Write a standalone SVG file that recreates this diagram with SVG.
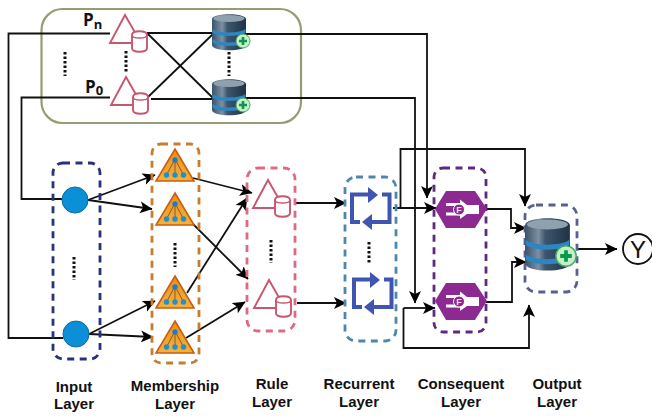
<svg xmlns="http://www.w3.org/2000/svg" width="652" height="417" viewBox="0 0 652 417">
<style>
.wire{fill:none;stroke:#111;stroke-width:1.8}
.arr{marker-end:url(#head)}
.box{fill:none;stroke-width:2.8;stroke-dasharray:7 5.5}
.dots{fill:none;stroke:#111;stroke-width:3;stroke-dasharray:2.6 1.9}
.lab{font-family:"Liberation Sans",Arial,sans-serif;font-weight:700;font-size:15px;fill:#111;text-anchor:middle}
.p{font-family:"Open Sans","Liberation Sans",sans-serif;font-weight:700;fill:#111}
.rule{fill:#fff;stroke:#c8566f;stroke-width:1.9}
.loop{fill:none;stroke:#3f55b0;stroke-width:4}
</style>
<defs>
<marker id="head" markerUnits="userSpaceOnUse" markerWidth="14" markerHeight="14" refX="12" refY="6.5" orient="auto">
<path d="M0,0.5 L12.5,6.5 L0,12.5 L3,6.5 z" fill="#000"/>
</marker>
<linearGradient id="dbg" x1="0" x2="1" y1="0" y2="0">
<stop offset="0" stop-color="#3a5268"/><stop offset=".3" stop-color="#7d90a2"/><stop offset=".45" stop-color="#3e566d"/><stop offset="1" stop-color="#1f3245"/>
</linearGradient>
<linearGradient id="org" x1="0" x2="0" y1="0" y2="1">
<stop offset="0" stop-color="#e98f1c"/><stop offset="1" stop-color="#f6b13a"/>
</linearGradient>
<g id="db">
<path d="M0,5 C0,-1.5 34,-1.5 34,5 L34,31 C34,38 0,38 0,31 z" fill="url(#dbg)"/>
<ellipse cx="17" cy="4.5" rx="15.5" ry="3.4" fill="#8fa0ae"/>
<path d="M0.5,15 C6,19.5 28,19.5 33.5,15 L33.5,18.5 C28,23 6,23 0.5,18.5 z" fill="#2b87c4"/>
<path d="M0.5,25 C6,29.5 28,29.5 33.5,25 L33.5,28.5 C28,33 6,33 0.5,28.5 z" fill="#2b87c4"/>
</g>
<g id="plus">
<circle r="7" fill="#c9edcb" stroke="#42ab62" stroke-width="1"/>
<path d="M-4,0H4M0,-4V4" stroke="#079a48" stroke-width="2.6" fill="none"/>
</g>
<g id="rulegl">
<path d="M15,0 L0,28 L31,28 z" class="rule"/>
<path d="M22,20 C22,15 37,15 37,20 L37,33 C37,38 22,38 22,33 z" class="rule"/>
<path d="M22,20 C22,24 37,24 37,20" fill="none" stroke="#c8566f" stroke-width="1.4"/>
</g>
<g id="mem">
<path d="M19,0 L38,32 L0,32 z" fill="url(#org)" stroke="#c85e10" stroke-width="1.6"/>
<path d="M19,10 L10.500,26 M19,10 V26 M19,10 L27.500,26" stroke="#8a5a30" stroke-width="1"/>
<circle cx="19" cy="11" r="2.700" fill="#1f7cc4"/>
<circle cx="10.500" cy="26" r="2.700" fill="#1f8fd0"/>
<circle cx="19" cy="26" r="2.700" fill="#1f8fd0"/>
<circle cx="27.500" cy="26" r="2.700" fill="#1f8fd0"/>
</g>
<g id="loopgl">
<path d="M10,35 H2 V7.500 H20" class="loop"/>
<path d="M18,0 L28,8 L18,16 z" fill="#3f55b0"/>
<path d="M32,7.500 H39.500 V35 H22" class="loop"/>
<path d="M22,27 L12,35 L22,43 z" fill="#3f55b0"/>
</g>
<g id="hex">
<path d="M0,18 L11,0 L40,0 L52,18 L40,37 L11,37 z" fill="#8c2a92"/>
<path d="M11,12 H25 V8.500 L32,14 H44 V23 H32 L25,28 V24.500 H11 V21.500 H20 L22,18.500 L20,15 H11 z" fill="#fff"/>
<circle cx="24" cy="18.500" r="5.500" fill="#8c2a92" stroke="#fff" stroke-width="1"/>
<text x="24" y="22" text-anchor="middle" font-family="Liberation Sans,sans-serif" font-weight="700" font-size="9" fill="#f3d8f4">F</text>
</g>
</defs>

<rect width="652" height="417" fill="#fff"/>

<g id="premise-panel">
<rect x="41.500" y="9" width="259.500" height="114" rx="21" fill="none" stroke="#959d74" stroke-width="2.200"/>
<path class="dots" d="M65,52V76"/>
<path class="dots" d="M126,51V73"/>
<path class="dots" d="M229,52V76"/>
</g>

<g id="connectors">
<path class="wire" d="M110,33.500 H8.500 V338 H63"/>
<path class="wire" d="M110,97.500 H21.500 V199 H62"/>
<path class="wire" d="M147,33 H214"/>
<path class="wire" d="M147,33 L214,99"/>
<path class="wire" d="M148,97 L214,33"/>
<path class="wire" d="M151,99 H214"/>
<path class="wire arr" d="M246,34 H427 V198"/>
<path class="wire arr" d="M246,98 H415 V303"/>
<path class="wire arr" d="M88,200 L155,175"/>
<path class="wire arr" d="M88,200 L152,209"/>
<path class="wire arr" d="M89,334 L155,301"/>
<path class="wire arr" d="M89,334 L153,337"/>
<path class="wire arr" d="M193,178 L252,193"/>
<path class="wire arr" d="M187,218 L248,279"/>
<path class="wire arr" d="M187,293 L247,198"/>
<path class="wire arr" d="M186,338 L245,302"/>
<path class="wire arr" d="M296,203 H346"/>
<path class="wire arr" d="M297,303 H346"/>
<path class="wire arr" d="M393,208 H436"/>
<path class="wire arr" d="M400.500,208 V149 H525 V206"/>
<path class="wire arr" d="M403.500,308 H435"/>
<path class="wire arr" d="M403.500,308 V348 H529 V305"/>
<path class="wire arr" d="M486,209 H511 V228 H526"/>
<path class="wire arr" d="M486,302 H512 V262 H526"/>
<path class="wire arr" d="M577,249 H617"/>
</g>

<g id="node-p-n"><use href="#rulegl" transform="translate(110,15)"/><text class="p" x="83" y="26" font-size="17">P<tspan font-size="13" dy="3">n</tspan></text></g>
<g id="node-p-0"><use href="#rulegl" transform="translate(111,77)"/><text class="p" x="85" y="93" font-size="17">P<tspan font-size="13" dy="2">0</tspan></text></g>
<g id="node-db-n"><use href="#db" transform="translate(212,14)"/><use href="#plus" transform="translate(243,41)"/></g>
<g id="node-db-0"><use href="#db" transform="translate(212,79)"/><use href="#plus" transform="translate(243,105)"/></g>

<g id="input-layer">
<rect class="box" x="53" y="163" width="47" height="196" rx="10" stroke="#27327c"/>
<circle cx="75" cy="200" r="13" fill="#0b8fd6" stroke="#0d6aa0" stroke-width="1"/>
<circle cx="76" cy="334" r="13" fill="#0b8fd6" stroke="#0d6aa0" stroke-width="1"/>
<path class="dots" d="M74,257V280"/>
<text class="lab" x="74" y="392">Input</text>
<text class="lab" x="74" y="409">Layer</text>
</g>

<g id="membership-layer">
<rect class="box" x="152" y="144" width="47" height="219" rx="9" stroke="#c77d2e"/>
<use href="#mem" transform="translate(156,149)"/>
<use href="#mem" transform="translate(156,193)"/>
<use href="#mem" transform="translate(156,276)"/>
<use href="#mem" transform="translate(156,321)"/>
<path class="dots" d="M175,243V267"/>
<text class="lab" x="175" y="391">Membership</text>
<text class="lab" x="175" y="409">Layer</text>
</g>

<g id="rule-layer">
<rect class="box" x="247" y="168" width="48" height="163" rx="11" stroke="#dd6a84"/>
<use href="#rulegl" transform="translate(253,180)"/>
<use href="#rulegl" transform="translate(254,280)"/>
<path class="dots" d="M271,240V263"/>
<text class="lab" x="272" y="389">Rule</text>
<text class="lab" x="272" y="407">Layer</text>
</g>

<g id="recurrent-layer">
<rect class="box" x="345" y="177" width="51" height="164" rx="11" stroke="#4e87ae"/>
<use href="#loopgl" transform="translate(350,187)"/>
<use href="#loopgl" transform="translate(352,272)"/>
<path class="dots" d="M369,242V263"/>
<text class="lab" x="359" y="389">Recurrent</text>
<text class="lab" x="359" y="407">Layer</text>
</g>

<g id="consequent-layer">
<rect class="box" x="434" y="168" width="52" height="164" rx="9" stroke="#5e2a80"/>
<use href="#hex" transform="translate(435,191)"/>
<use href="#hex" transform="translate(435,283)"/>
<text class="lab" x="461" y="389">Consequent</text>
<text class="lab" x="461" y="407">Layer</text>
</g>

<g id="output-layer">
<rect class="box" x="525" y="205" width="52" height="87" rx="11" stroke="#5a5f90"/>
<use href="#db" transform="translate(525,218) scale(1.32,1.45)"/>
<use href="#plus" transform="translate(566,256) scale(1.45)"/>
<text class="lab" x="557" y="389">Output</text>
<text class="lab" x="557" y="407">Layer</text>
</g>

<g id="output-y">
<circle cx="638" cy="249" r="15" fill="#fff" stroke="#111" stroke-width="1.800"/>
<text x="638" y="258" text-anchor="middle" font-family="Liberation Sans,sans-serif" font-size="24" fill="#111">Y</text>
</g>
</svg>
